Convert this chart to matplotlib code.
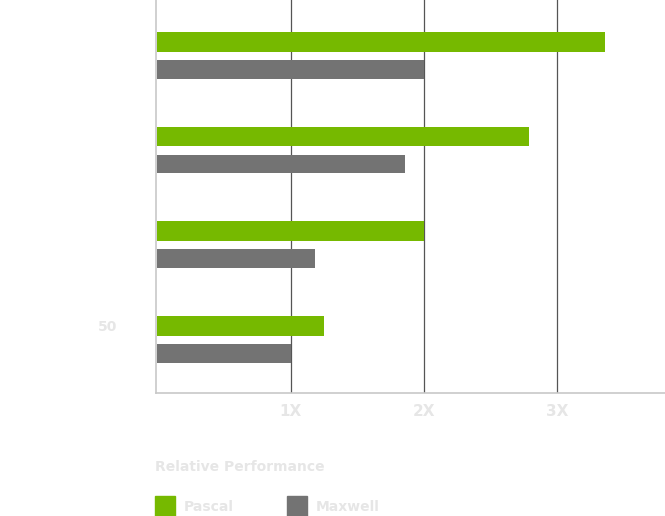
import matplotlib
matplotlib.use("Agg")
import matplotlib.pyplot as plt
import numpy as np
from matplotlib.patches import Rectangle

categories = ["", "", "", "50"]
pascal = [3.36, 2.79, 2.0, 1.25]
maxwell = [2.0, 1.86, 1.18, 1.0]
xticks = [1, 2, 3]
xticklabels = ["1X", "2X", "3X"]

W, H = 665, 516
fig = plt.figure(figsize=(W/100, H/100), dpi=100)
ax = fig.add_axes([156/W, 1-393/H, (665-156)/W, 393/H])
y = np.arange(len(categories))
green = "#76b900"; grey = "#737373"
ax.barh(y-0.145, pascal, height=0.21, color=green, zorder=3)
ax.barh(y+0.145, maxwell, height=0.20, color=grey, zorder=3)
ax.set_ylim(3.563, -0.587)
ax.set_xlim(-0.01, 3.81)
ax.set_yticks(y-0.145)
ax.set_yticklabels(categories, color="#e6e6e6", fontsize=10, fontweight="bold")
ax.tick_params(axis="y", length=0, pad=28)
ax.set_xticks(xticks)
ax.set_xticklabels(xticklabels, color="#e6e6e6", fontsize=11, fontweight="bold")
ax.tick_params(axis="x", length=0, pad=8)
ax.grid(axis="x", color="#555555", linewidth=0.9, zorder=1)
for s in ["top", "right"]:
    ax.spines[s].set_visible(False)
for s in ["left", "bottom"]:
    ax.spines[s].set_color("#c8c8c8")
    ax.spines[s].set_linewidth(1.2)

fig.text(155/W, 1-467/H, "Relative Performance", color="#e6e6e6", fontsize=10,
         fontweight="bold", va="center")
for x0, c, lab in [(155, green, "Pascal"), (287, grey, "Maxwell")]:
    fig.patches.append(Rectangle((x0/W, 1-516/H), 20/W, 20/H, color=c,
                                 transform=fig.transFigure, figure=fig))
    fig.text((x0+29)/W, 1-507/H, lab, color="#e6e6e6", fontsize=10,
             fontweight="bold", va="center")
fig.savefig("out.png", dpi=100)
